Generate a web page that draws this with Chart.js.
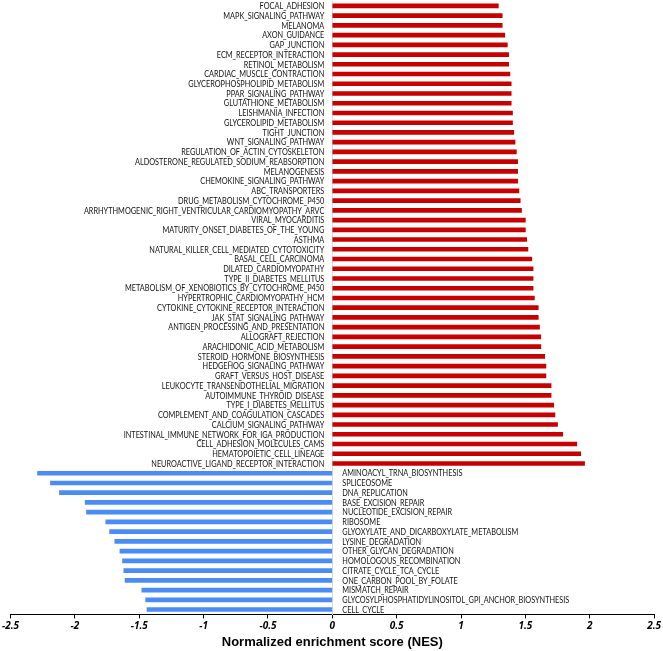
<!DOCTYPE html>
<html>
<head>
<meta charset="utf-8">
<script src="https://cdn.jsdelivr.net/npm/chart.js@4"></script>
<style>
  html, body { margin: 0; padding: 0; background: #fff; }
  #wrap { width: 663px; height: 651px; }
</style>
</head>
<body>
<div id="wrap"><canvas id="nes-chart" width="663" height="651"></canvas></div>
<script>
const pathways = [
  "FOCAL_ADHESION", "MAPK_SIGNALING_PATHWAY", "MELANOMA", "AXON_GUIDANCE", "GAP_JUNCTION",
  "ECM_RECEPTOR_INTERACTION", "RETINOL_METABOLISM", "CARDIAC_MUSCLE_CONTRACTION",
  "GLYCEROPHOSPHOLIPID_METABOLISM", "PPAR_SIGNALING_PATHWAY", "GLUTATHIONE_METABOLISM",
  "LEISHMANIA_INFECTION", "GLYCEROLIPID_METABOLISM", "TIGHT_JUNCTION", "WNT_SIGNALING_PATHWAY",
  "REGULATION_OF_ACTIN_CYTOSKELETON", "ALDOSTERONE_REGULATED_SODIUM_REABSORPTION", "MELANOGENESIS",
  "CHEMOKINE_SIGNALING_PATHWAY", "ABC_TRANSPORTERS", "DRUG_METABOLISM_CYTOCHROME_P450",
  "ARRHYTHMOGENIC_RIGHT_VENTRICULAR_CARDIOMYOPATHY_ARVC", "VIRAL_MYOCARDITIS",
  "MATURITY_ONSET_DIABETES_OF_THE_YOUNG", "ASTHMA", "NATURAL_KILLER_CELL_MEDIATED_CYTOTOXICITY",
  "BASAL_CELL_CARCINOMA", "DILATED_CARDIOMYOPATHY", "TYPE_II_DIABETES_MELLITUS",
  "METABOLISM_OF_XENOBIOTICS_BY_CYTOCHROME_P450", "HYPERTROPHIC_CARDIOMYOPATHY_HCM",
  "CYTOKINE_CYTOKINE_RECEPTOR_INTERACTION", "JAK_STAT_SIGNALING_PATHWAY",
  "ANTIGEN_PROCESSING_AND_PRESENTATION", "ALLOGRAFT_REJECTION", "ARACHIDONIC_ACID_METABOLISM",
  "STEROID_HORMONE_BIOSYNTHESIS", "HEDGEHOG_SIGNALING_PATHWAY", "GRAFT_VERSUS_HOST_DISEASE",
  "LEUKOCYTE_TRANSENDOTHELIAL_MIGRATION", "AUTOIMMUNE_THYROID_DISEASE", "TYPE_I_DIABETES_MELLITUS",
  "COMPLEMENT_AND_COAGULATION_CASCADES", "CALCIUM_SIGNALING_PATHWAY",
  "INTESTINAL_IMMUNE_NETWORK_FOR_IGA_PRODUCTION", "CELL_ADHESION_MOLECULES_CAMS",
  "HEMATOPOIETIC_CELL_LINEAGE", "NEUROACTIVE_LIGAND_RECEPTOR_INTERACTION",
  "AMINOACYL_TRNA_BIOSYNTHESIS", "SPLICEOSOME", "DNA_REPLICATION", "BASE_EXCISION_REPAIR",
  "NUCLEOTIDE_EXCISION_REPAIR", "RIBOSOME", "GLYOXYLATE_AND_DICARBOXYLATE_METABOLISM",
  "LYSINE_DEGRADATION", "OTHER_GLYCAN_DEGRADATION", "HOMOLOGOUS_RECOMBINATION",
  "CITRATE_CYCLE_TCA_CYCLE", "ONE_CARBON_POOL_BY_FOLATE", "MISMATCH_REPAIR",
  "GLYCOSYLPHOSPHATIDYLINOSITOL_GPI_ANCHOR_BIOSYNTHESIS", "CELL_CYCLE",
];

const nesValues = [
  1.29, 1.32, 1.32, 1.34, 1.36, 1.37, 1.37, 1.38, 1.39, 1.39, 1.39, 1.40,
  1.40, 1.41, 1.42, 1.43, 1.44, 1.44, 1.44, 1.45, 1.46, 1.47, 1.50, 1.50,
  1.51, 1.52, 1.55, 1.56, 1.56, 1.56, 1.57, 1.60, 1.60, 1.61, 1.62, 1.62,
  1.65, 1.66, 1.66, 1.70, 1.70, 1.72, 1.73, 1.75, 1.79, 1.90, 1.93, 1.96,
  -2.29, -2.19, -2.12, -1.92, -1.91, -1.76, -1.73, -1.69, -1.65, -1.63, -1.62, -1.61,
  -1.48, -1.45, -1.44,
];

const xTicks = [-2.5, -2, -1.5, -1, -0.5, 0, 0.5, 1, 1.5, 2, 2.5];

const upColor = "#c80000";
const downColor = "#4a8cf4";
const labelFont = "8.5px Lato";
const labelTargetWidth = 173; // width of the longest red label in the reference

// pathway names sit next to the zero line, on the side away from the bar
const pathwayLabels = {
  id: "pathwayLabels",
  afterDatasetsDraw(chart) {
    const { ctx, scales } = chart;
    const zeroX = scales.x.getPixelForValue(0);
    ctx.save();
    ctx.font = labelFont;
    const squeeze = labelTargetWidth / ctx.measureText(pathways[47]).width;
    ctx.fillStyle = "#111";
    ctx.textBaseline = "middle";
    pathways.forEach((name, i) => {
      const y = scales.y.getPixelForValue(i);
      const up = nesValues[i] > 0;
      const x = up ? zeroX - 8 : zeroX + 10;
      ctx.save();
      ctx.translate(x, y + 0.5);
      ctx.scale(squeeze, 1);
      ctx.textAlign = up ? "right" : "left";
      ctx.fillText(name, 0, 0);
      ctx.restore();
    });
    ctx.restore();
  },
};

const ctx = document.getElementById("nes-chart").getContext("2d");
new Chart(ctx, {
  type: "bar",
  data: {
    labels: pathways,
    datasets: [
      {
        label: "NES",
        data: nesValues,
        backgroundColor: nesValues.map((v) => (v > 0 ? upColor : downColor)),
        borderWidth: 0,
        barThickness: 4,
      },
    ],
  },
  options: {
    indexAxis: "y",
    responsive: false,
    animation: false,
    layout: { padding: { left: 0, right: 0, top: 1, bottom: 0 } },
    plugins: {
      legend: { display: false },
      tooltip: { enabled: false },
    },
    scales: {
      x: {
        type: "linear",
        min: -2.5,
        max: 2.5,
        afterBuildTicks: (scale) => {
          scale.ticks = xTicks.map((value) => ({ value }));
        },
        grid: {
          drawOnChartArea: false,
          drawTicks: true,
          tickLength: 4,
          color: "#000",
        },
        border: { display: true, color: "#000", width: 1 },
        ticks: {
          color: "#000",
          padding: 2,
          maxRotation: 0,
          font: { family: "Open Sans", size: 10, weight: "bold", style: "italic" },
          callback: (value) => String(value),
        },
        title: {
          display: true,
          text: "Normalized enrichment score (NES)",
          color: "#000",
          padding: { top: 0, bottom: 1 },
          font: { family: "Liberation Sans", size: 13, weight: "bold" },
        },
      },
      y: {
        position: { x: 0 },
        grid: { display: false },
        border: { display: true, color: "#d9d9d9", width: 1 },
        ticks: { display: false },
      },
    },
  },
  plugins: [pathwayLabels],
});
</script>
</body>
</html>
